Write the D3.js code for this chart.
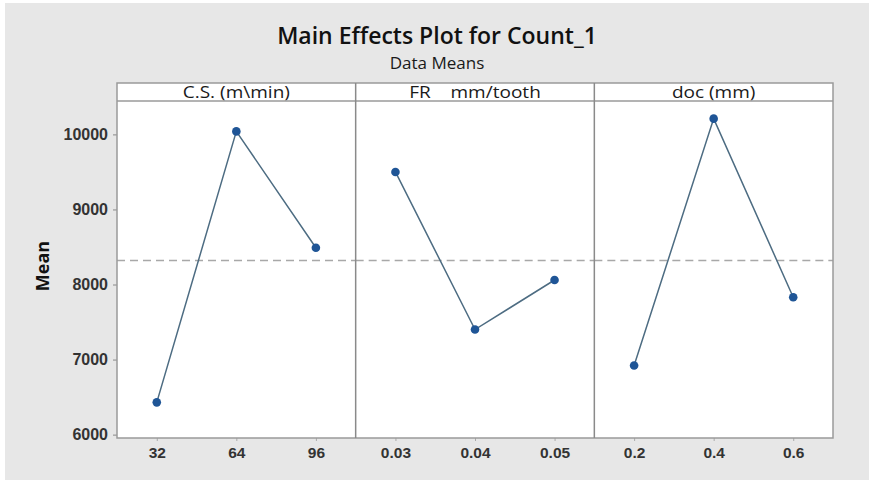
<!DOCTYPE html>
<html lang="en">
<head>
  <meta charset="UTF-8">
  <title>Main Effects Plot for Count_1</title>
  <script src="https://d3js.org/d3.v7.min.js"></script>
  <style>
    body {
      margin: 0;
      background: #fff;
      font-family: "Open Sans", "Noto Sans", sans-serif;
    }
  </style>
</head>
<body>
<div id="chart"></div>

<script>
  // factor names shown in the strip above each panel
  const factors = ["C.S. (m\\min)", "FR    mm/tooth", "doc (mm)"];
  // levels for each factor
  const levels = [
    ["32", "64", "96"],
    ["0.03", "0.04", "0.05"],
    ["0.2", "0.4", "0.6"]
  ];
  // mean response at each level
  const means = [
    [6430, 10040, 8490],
    [9500, 7400, 8060],
    [6920, 10210, 7830]
  ];
  const yTicks = [6000, 7000, 8000, 9000, 10000];

  const width = 869;
  const height = 480;
  const plotLeft = 117, plotRight = 833, stripTop = 83, plotTop = 101, plotBottom = 438;
  const panelW = (plotRight - plotLeft) / factors.length;

  const grandMean = d3.mean(means.flat());

  const svg = d3.select("#chart").append("svg")
    .attr("width", width)
    .attr("height", height);

  svg.append("rect")
    .attr("x", 5).attr("y", 3)
    .attr("width", width - 5).attr("height", height - 3)
    .attr("fill", "#e7e7e7");

  svg.append("text")
    .attr("x", 437).attr("y", 44)
    .attr("text-anchor", "middle")
    .attr("font-size", 23)
    .attr("font-weight", 600)
    .attr("fill", "#111")
    .text("Main Effects Plot for Count_1");

  svg.append("text")
    .attr("transform", "translate(437,69) scale(1.1,1)")
    .attr("text-anchor", "middle")
    .attr("font-size", 15.5)
    .attr("font-weight", 500)
    .attr("fill", "#1a1a1a")
    .text("Data Means");

  const y = d3.scaleLinear()
    .domain([5955, 10445])
    .range([plotBottom, plotTop]);

  // white plot area + strip
  svg.append("rect")
    .attr("x", plotLeft).attr("y", stripTop)
    .attr("width", plotRight - plotLeft).attr("height", plotBottom - stripTop)
    .attr("fill", "#fff");

  const styleTicks = size => g => g.selectAll(".tick text")
    .attr("font-size", size)
    .attr("font-weight", 600)
    .attr("fill", "#333");

  // y axis
  svg.append("g")
    .attr("transform", `translate(${plotLeft},0)`)
    .call(d3.axisLeft(y).tickValues(yTicks).tickSize(4).tickPadding(5).tickFormat(d3.format("d")))
    .call(g => g.select(".domain").remove())
    .call(g => g.selectAll(".tick line").attr("stroke", "#888"))
    .call(styleTicks(16));

  svg.append("text")
    .attr("transform", `translate(43,266) rotate(-90)`)
    .attr("text-anchor", "middle")
    .attr("dy", "0.35em")
    .attr("font-size", 18)
    .attr("font-weight", 700)
    .attr("fill", "#111")
    .text("Mean");

  factors.forEach((f, i) => {
    const x0 = plotLeft + i * panelW;
    const x = d3.scalePoint()
      .domain(levels[i])
      .range([x0, x0 + panelW])
      .padding(0.5);

    const g = svg.append("g");

    // strip label
    g.append("text")
      .attr("transform", `translate(${x0 + panelW / 2},${stripTop + 14.5}) scale(1.12,1)`)
      .attr("text-anchor", "middle")
      .attr("font-size", 17)
      .attr("fill", "#1a1a1a")
      .attr("xml:space", "preserve")
      .style("white-space", "pre")
      .text(f);

    // x axis
    g.append("g")
      .attr("transform", `translate(0,${plotBottom})`)
      .call(d3.axisBottom(x).tickSize(3).tickPadding(6))
      .call(gg => gg.select(".domain").remove())
      .call(gg => gg.selectAll(".tick line").attr("stroke", "#aaa"))
      .call(styleTicks(15.5));

    // grand mean reference line
    g.append("line")
      .attr("x1", x0).attr("x2", x0 + panelW)
      .attr("y1", y(grandMean)).attr("y2", y(grandMean))
      .attr("stroke", "#a8a8a8")
      .attr("stroke-width", 1.3)
      .attr("stroke-dasharray", "8,5");

    const pts = levels[i].map((l, j) => ({ l, v: means[i][j] }));

    g.append("path")
      .datum(pts)
      .attr("fill", "none")
      .attr("stroke", "#4d6c82")
      .attr("stroke-width", 1.5)
      .attr("d", d3.line().x(d => x(d.l)).y(d => y(d.v)));

    g.selectAll("circle")
      .data(pts)
      .join("circle")
      .attr("cx", d => x(d.l))
      .attr("cy", d => y(d.v))
      .attr("r", 4.3)
      .attr("fill", "#1f5596");
  });

  // frames
  svg.append("rect")
    .attr("x", plotLeft).attr("y", stripTop)
    .attr("width", plotRight - plotLeft).attr("height", plotBottom - stripTop)
    .attr("fill", "none")
    .attr("stroke", "#9a9a9a")
    .attr("stroke-width", 1.5);

  svg.append("line")
    .attr("x1", plotLeft).attr("x2", plotRight)
    .attr("y1", plotTop).attr("y2", plotTop)
    .attr("stroke", "#9a9a9a")
    .attr("stroke-width", 1.5);

  svg.append("g")
    .selectAll("line")
    .data(d3.range(1, factors.length))
    .join("line")
    .attr("x1", i => plotLeft + i * panelW)
    .attr("x2", i => plotLeft + i * panelW)
    .attr("y1", stripTop).attr("y2", plotBottom)
    .attr("stroke", "#8a8a8a")
    .attr("stroke-width", 1.5);
</script>
</body>
</html>
